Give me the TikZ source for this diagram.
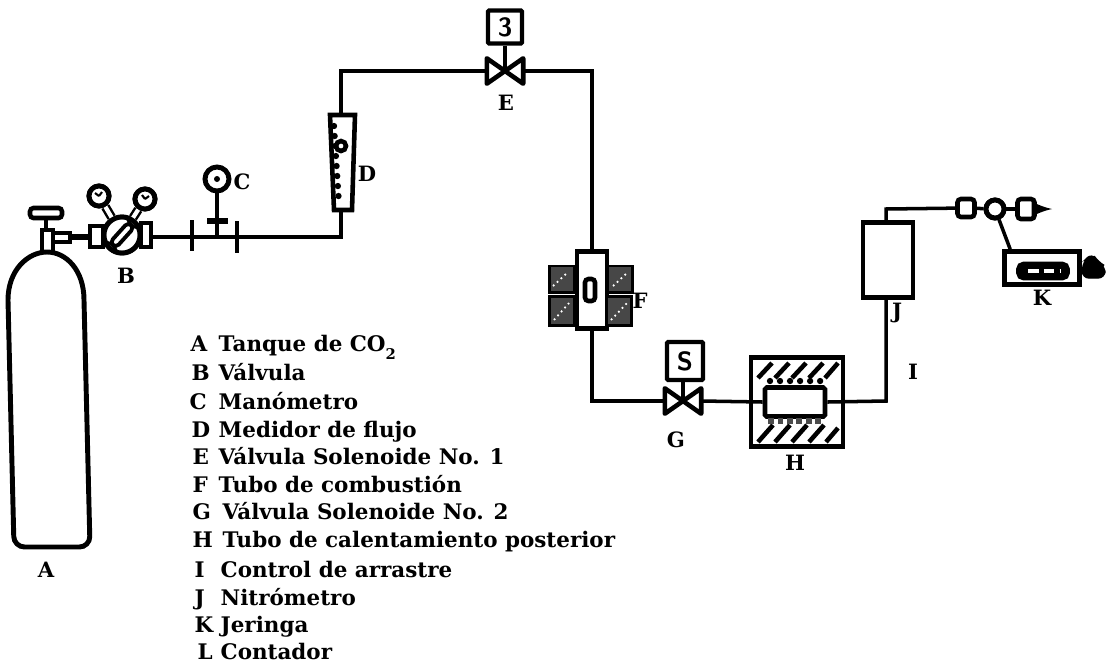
\documentclass[tikz,border=0pt]{standalone}
\usepackage{fontspec}
\setmainfont{DejaVu Serif}
\usetikzlibrary{positioning,calc}

\begin{document}
\begin{tikzpicture}[
    x=0.01cm, y=-0.01cm,
    pipe/.style={line width=1pt},
    heavy/.style={line width=1.3pt},
    valve/.style={rectangle, minimum width=3.5mm, minimum height=2.4mm, inner sep=0pt},
    solbox/.style={draw, line width=1.2pt, rectangle, rounded corners=0.3pt, inner sep=0pt, font=\fontsize{7.5}{8}\selectfont\bfseries\sffamily},
    gauge/.style={draw, circle, line width=1.4pt, fill=white, inner sep=0pt},
    block/.style={draw, line width=0.85pt, fill=black!72, rectangle, inner sep=0pt, minimum width=2.5mm},
    letter/.style={font=\fontsize{6}{7}\selectfont\bfseries, inner sep=0pt},
    keyrow/.style={font=\fontsize{6.1}{7}\selectfont\bfseries, inner sep=0pt, anchor=base west},
    >=latex
]
\useasboundingbox (0,0) rectangle (1106,663);

% Main nodes
\node[gauge, minimum size=3.6mm] (reg) at (122,235) {};
\node[gauge, minimum size=2mm] (gaugeL) at (99,196) {};
\node[gauge, minimum size=2mm] (gaugeR) at (145,199) {};
\node[gauge, minimum size=2.4mm] (gaugeC) at (217,179) {};

\node[solbox, minimum width=3.4mm, minimum height=3.3mm] (solE) at (505,27) {3};
\node[valve] (E) at (505,71) {};
\node[solbox, minimum width=3.6mm, minimum height=3.8mm] (solG) at (685,361) {S};
\node[valve] (G) at (683,401) {};

\node[draw, heavy, rectangle, minimum width=3mm, minimum height=7.7mm, inner sep=0pt] (F) at (592,290) {};
\node[block, minimum height=2.6mm] (F1) at (562,279) {};
\node[block, minimum height=2.9mm] (F2) at (562,311) {};
\node[block, minimum height=2.6mm] (F3) at (620,279) {};
\node[block, minimum height=2.9mm] (F4) at (619,311) {};
\node[draw, heavy, rectangle, rounded corners=1pt, minimum width=1mm, minimum height=2.2mm, inner sep=0pt] (Fcore) at (590,290) {};

\node[draw, heavy, rectangle, minimum width=9.2mm, minimum height=8.9mm, inner sep=0pt] (H) at (797,402) {};
\node[draw, heavy, rectangle, rounded corners=0.5pt, fill=white, minimum width=6mm, minimum height=2.9mm, inner sep=0pt] (Hcore) at (795,402) {};

\node[draw, heavy, rectangle, minimum width=5mm, minimum height=7.5mm, inner sep=0pt] (J) at (888,260) {};
\node[draw, heavy, rectangle, rounded corners=1pt, minimum width=1.7mm, minimum height=1.8mm, inner sep=0pt] (trapA) at (966,208) {};
\node[gauge, minimum size=1.8mm] (tee) at (995,209) {};
\node[draw, heavy, rectangle, rounded corners=1pt, minimum width=1.7mm, minimum height=2mm, inner sep=0pt] (trapB) at (1026,209) {};
\coordinate (tip) at (1052,209);
\node[draw, heavy, rectangle, minimum width=7.5mm, minimum height=3.3mm, inner sep=0pt] (K) at (1042,268) {};
\node[draw, fill=black, line width=1pt, rectangle, rounded corners=1.5pt, minimum width=5mm, minimum height=1.5mm, inner sep=0pt] (Kcore) at (1043,271) {};

% Helper coordinates
\coordinate (startB) at (152,237);
\coordinate (cornerD) at (341,237);
\coordinate (topD) at (341,115);
\coordinate (botD) at (341,210);
\coordinate (cornerE) at (341,71);
\coordinate (cornerF) at (592,71);
\coordinate (cornerG) at (592,401);
\coordinate (cornerI) at (886,401);
\coordinate (cornerJ) at (886,209);
\coordinate (teeC) at (217,237);

% Gas cylinder
\draw[line width=1.4pt, rounded corners=3pt] (8,300) -- (14,547) -- (90,547) -- (84,300);
\draw[line width=1.4pt] (8,300) .. controls (8,270) and (28,252) .. (47,252) .. controls (66,252) and (84,270) .. (84,300);
\draw[pipe] (42,252) -- (42,230) -- (53,230) -- (53,252);
\draw[heavy] (46,230) -- (46,218);
\draw[heavy, rounded corners=1pt, fill=white] (30,208) rectangle (62,218);

% Regulator
\draw[pipe] (53,233) -- (70,233) -- (70,242) -- (53,242);
\draw[line width=1.6pt] (70,237) -- (90,237);
\draw[heavy, fill=white] (90,226) rectangle (103,247);
\draw[heavy, fill=white] (141,223) rectangle (151,247);
\draw[line width=2.6pt] (gaugeL) -- (reg);
\draw[line width=1.2pt, white] (gaugeL) -- ($(gaugeL)!0.6!(reg)$);
\draw[line width=2.6pt] (gaugeR) -- (reg);
\draw[line width=1.2pt, white] (gaugeR) -- ($(gaugeR)!0.55!(reg)$);
\node[gauge, minimum size=3.6mm] at (reg) {};
\node[gauge, minimum size=2mm] at (gaugeL) {};
\node[gauge, minimum size=2mm] at (gaugeR) {};
\draw[line width=0.6pt] (gaugeL.center) -- +(-4,-3) (gaugeL.center) -- +(3,-4);
\draw[line width=0.6pt] (gaugeR.center) -- +(-3,-4) (gaugeR.center) -- +(4,-3);
\node[draw, line width=1.1pt, rectangle, rounded corners=1.2pt, rotate=48, minimum width=2.7mm, minimum height=0.8mm, inner sep=0pt] (slot) at (reg) {};

% Line to the flow meter
\draw[pipe] (startB) -- (cornerD) -- (botD);
\draw[line width=1.3pt] (192,220) -- (192,251);
\draw[line width=1.3pt] (237,221) -- (237,253);
\draw[line width=1.2pt] (teeC) -- (gaugeC);
\draw[line width=1.6pt] (207,221) -- (228,221);
\fill (gaugeC) circle (3);

% Flow meter
\draw[heavy] (330,115) -- (355,115) -- (352,210) -- (334,210) -- cycle;
\draw[line width=1.8pt, line cap=round, dash pattern=on 0pt off 2.85pt] (334,126) -- (339,204);
\draw[heavy, fill=white] (341,146) circle (5);

% Upper line and solenoid valve
\draw[pipe] (topD) -- (cornerE) -- (E.west);
\draw[pipe] (E.east) -- (cornerF) -- (F.north -| cornerF);
\draw[pipe] (solE) -- (E.center);
\draw[heavy, fill=white, line join=round] (E.north west) -- (E.south east) -- (E.north east) -- (E.south west) -- cycle;

% Lower line and second valve
\draw[pipe] (F.south -| cornerG) -- (cornerG) -- (G.west);
\draw[pipe] (solG.south -| G) -- (G.center);
\draw[heavy, fill=white, line join=round] (G.north west) -- (G.south east) -- (G.north east) -- (G.south west) -- cycle;
\draw[pipe] (G.east) -- (Hcore.west);
\draw[pipe] (Hcore.east) -- (cornerI) -- (J.south -| cornerI);

% Combustion block specks
\draw[white, line width=0.5pt, densely dotted]
    (553,286) -- (568,272) (554,320) -- (569,303)
    (613,286) -- (628,272) (611,320) -- (627,303);

% After burner hatching
\draw[line width=1.3pt]
    (758,378) -- (772,363) (775,378) -- (789,363) (792,378) -- (806,363) (809,378) -- (823,363) (825,378) -- (838,363)
    (758,442) -- (773,425) (775,442) -- (790,425) (792,442) -- (807,425) (809,442) -- (824,425) (826,442) -- (838,428);
\draw[line width=1.8pt, line cap=round, dash pattern=on 0pt off 2.85pt] (770,381) -- (822,381);
\draw[line width=1.7pt, black!70, densely dotted] (768,421) -- (824,421);

% Nitrometer outlet and syringe
\draw[pipe] (J.north -| cornerJ) -- (cornerJ) -- (trapA);
\draw[pipe] (trapA) -- (tee);
\draw[pipe] (tee) -- (trapB);
\draw[line width=1pt, -latex] (trapB.east) -- (tip);
\draw[pipe] (tee) -- ($(K.north west)+(8,0)$);
\node[gauge, minimum size=1.8mm] at (tee) {};
\draw[white, line width=0.9pt, dash pattern=on 3pt off 1.5pt] (1028,271) -- (1060,271);
\draw[fill=black, rounded corners=2pt] (1082,278) -- (1083,262) -- (1092,253) -- (1098,262) -- (1105,266) -- (1105,278) -- cycle;

% Letters on the drawing
\node[letter] (labelA) at (46,570) {A};
\node[letter] (labelB) at (126,276) {B};
\node[letter] (labelC) at (242,182) {C};
\node[letter] (labelD) at (367,174) {D};
\node[letter] (labelE) at (506,103) {E};
\node[letter] (labelF) at (640,301) {F};
\node[letter] (labelG) at (676,440) {G};
\node[letter] (labelH) at (795,463) {H};
\node[letter] (labelI) at (913,372) {I};
\node[letter] (labelJ) at (897,313) {J};
\node[letter] (labelK) at (1042,298) {K};

% Key
\node[keyrow] (keyA) at (190,351) {A};
\node[keyrow] (rowA) at (218,351) {Tanque de CO\raisebox{-2.4pt}{\fontsize{4.2}{5}\selectfont 2}};
\node[keyrow] (keyB) at (191,380) {B};
\node[keyrow] (rowB) at (218,380) {Válvula};
\node[keyrow] (keyC) at (189,409) {C};
\node[keyrow] (rowC) at (218,409) {Manómetro};
\node[keyrow] (keyD) at (191,437) {D};
\node[keyrow] (rowD) at (218,437) {Medidor de flujo};
\node[keyrow] (keyE) at (192,464) {E};
\node[keyrow] (rowE) at (218,464) {Válvula Solenoide No. 1};
\node[keyrow] (keyF) at (192,492) {F};
\node[keyrow] (rowF) at (218,492) {Tubo de combustión};
\node[keyrow] (keyG) at (192,519) {G};
\node[keyrow] (rowG) at (222,519) {Válvula Solenoide No. 2};
\node[keyrow] (keyH) at (192,547) {H};
\node[keyrow] (rowH) at (222,547) {Tubo de calentamiento posterior};
\node[keyrow] (keyI) at (194,577) {I};
\node[keyrow] (rowI) at (220,577) {Control de arrastre};
\node[keyrow] (keyJ) at (194,605) {J};
\node[keyrow] (rowJ) at (220,605) {Nitrómetro};
\node[keyrow] (keyK) at (194,632) {K};
\node[keyrow] (rowK) at (220,632) {Jeringa};
\node[keyrow] (keyL) at (197,659) {L};
\node[keyrow] (rowL) at (220,659) {Contador};

\end{tikzpicture}
\end{document}
